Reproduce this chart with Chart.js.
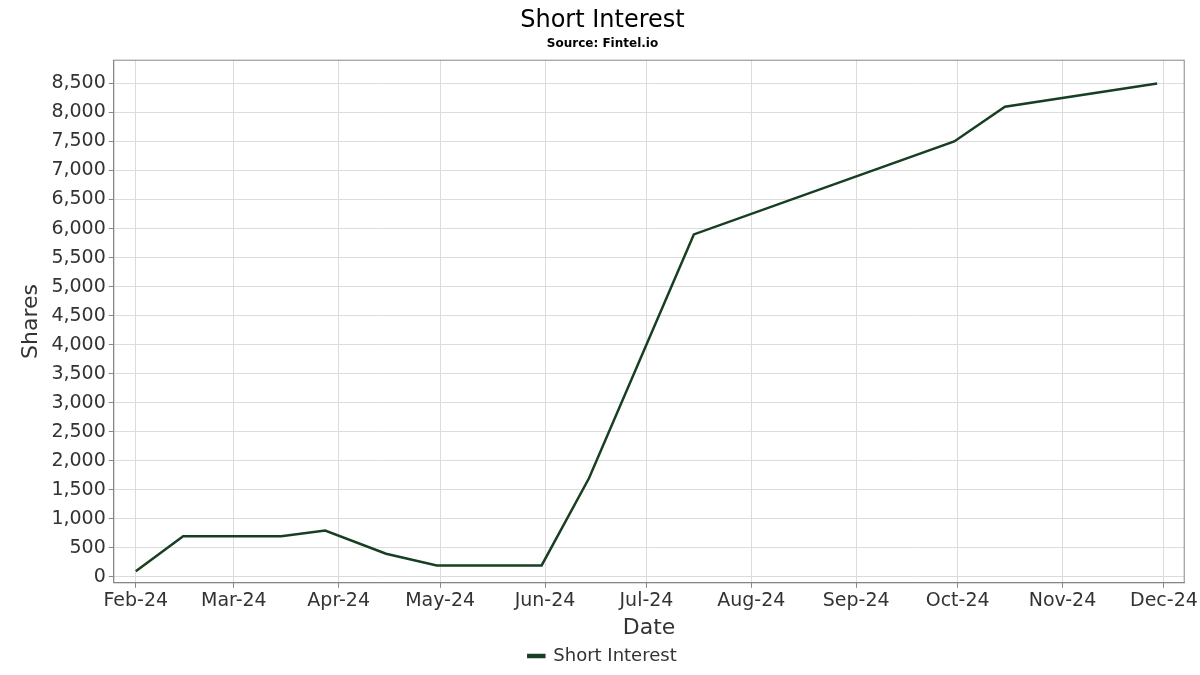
<!DOCTYPE html>
<html><head><meta charset="utf-8">
<script src="https://cdn.jsdelivr.net/npm/chart.js@4/dist/chart.umd.min.js"></script>
<style>html,body{margin:0;padding:0;background:#fff}#w{width:1200px;height:675px}</style>
</head><body><div id="w"><canvas id="c"></canvas></div>
<script>
const dates = ["2024-02-01","2024-02-15","2024-03-15","2024-03-28","2024-04-15","2024-04-30","2024-05-15","2024-05-31","2024-06-14","2024-07-15","2024-09-30","2024-10-15","2024-11-29"];
const shortInterest = [100,700,700,800,400,200,200,200,1700,5900,7500,8100,8500];
const monthStarts = ["2024-02-01","2024-03-01","2024-04-01","2024-05-01","2024-06-01","2024-07-01","2024-08-01","2024-09-01","2024-10-01","2024-11-01","2024-12-01"];
const monthLabels = ["Feb-24","Mar-24","Apr-24","May-24","Jun-24","Jul-24","Aug-24","Sep-24","Oct-24","Nov-24","Dec-24"];
const base = Date.UTC(2024,1,1);
const toDay = s => (Date.parse(s+"T00:00:00Z")-base)/86400000;
const tickDays = monthStarts.map(toDay);
const F = "'DejaVu Sans', sans-serif";
new Chart(document.getElementById('c'), {
  type:'line',
  data:{datasets:[{label:'Short Interest',data:dates.map((d,i)=>({x:toDay(d),y:shortInterest[i]})),
    borderColor:'#183f22',backgroundColor:'#183f22',borderWidth:2.5,pointRadius:0,tension:0}]},
  options:{responsive:true,maintainAspectRatio:false,animation:false,
    layout:{padding:{left:14,right:9,top:4,bottom:0}},
    plugins:{
      title:{display:true,text:'Short Interest',color:'#000',font:{family:F,size:24,weight:'normal'},padding:{top:2,bottom:0}},
      subtitle:{display:true,text:'Source: Fintel.io',color:'#000',font:{family:F,size:12,weight:'bold'},padding:{top:2,bottom:9}},
      legend:{position:'bottom',labels:{color:'#333',font:{family:F,size:18},boxWidth:16,boxHeight:2,padding:6}},
      tooltip:{enabled:false}},
    scales:{
      x:{type:'linear',min:-6.5,max:310,
        afterBuildTicks:ax=>{ax.ticks=tickDays.map(v=>({value:v}));},
        ticks:{color:'#333',font:{family:F,size:19},maxRotation:0,autoSkip:false,padding:2,
          callback:(v)=>{const i=tickDays.indexOf(v);return i>=0?monthLabels[i]:'';}},
        grid:{color:'#dcdcdc',drawTicks:true,tickLength:5,tickColor:'#888'},border:{color:'#888'},
        title:{display:true,text:'Date',color:'#333',font:{family:F,size:22},padding:{top:0,bottom:0}}},
      y:{min:-100,max:8900,
        afterBuildTicks:ax=>{const t=[];for(let v=0;v<=8500;v+=500)t.push({value:v});ax.ticks=t;},
        ticks:{color:'#333',font:{family:F,size:19},callback:v=>v.toLocaleString('en-US')},
        grid:{color:'#dcdcdc',tickLength:5,tickColor:'#888'},border:{color:'#888'},
        title:{display:true,text:'Shares',color:'#333',font:{family:F,size:22}}}
    }},
  plugins:[{id:'box',afterDraw(c){const a=c.chartArea,x=c.ctx;x.save();x.strokeStyle='#888';x.lineWidth=1;x.strokeRect(a.left,a.top,a.right-a.left,a.bottom-a.top);x.restore();}}]
});
</script></body></html>
